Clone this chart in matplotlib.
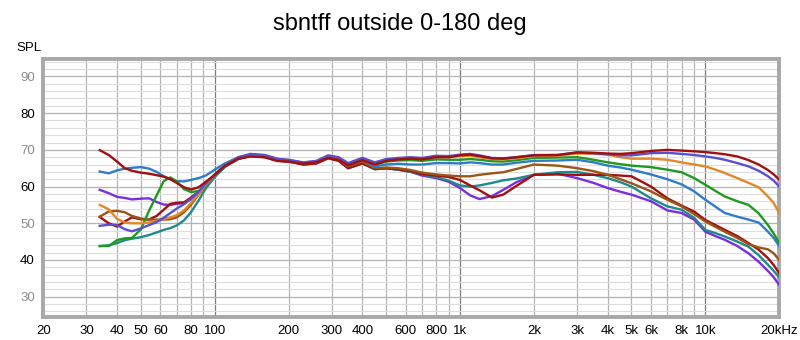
import matplotlib
matplotlib.use('Agg')
import matplotlib.pyplot as plt
from matplotlib.ticker import FixedLocator, NullFormatter

plt.rcParams['font.family'] = ['Liberation Sans', 'DejaVu Sans']

title = 'sbntff outside 0-180 deg'

freq = [34, 37, 40, 43, 46, 50, 54, 58, 62, 66, 70, 75, 80, 86, 92, 100, 110, 125, 140, 160,
        180, 200, 230, 260, 290, 320, 350, 400, 450, 500, 560, 630, 700, 800, 900, 1000, 1100,
        1200, 1350, 1500, 1700, 2000, 2500, 3000, 3500, 4000, 4500, 5000, 6000, 7000, 8000,
        9000, 10000, 11000, 12000, 13500, 15000, 16500, 18000, 19000, 20000]

spl_darkred = [69.9, 68.6, 66.8, 65.0, 64.3, 63.8, 63.5, 63.1, 62.7, 62.0, 61.0, 59.8, 59.2, 59.8, 61.3,
               63.2, 65.6, 67.6, 68.2, 68.0, 67.0, 66.8, 66.2, 66.6, 67.8, 67.3, 65.8, 67.2, 66.0, 67.0,
               67.4, 67.6, 67.4, 68.0, 68.0, 68.5, 68.7, 68.3, 67.7, 67.6, 68.0, 68.5, 68.6, 69.3, 69.2,
               69.0, 68.9, 69.1, 69.7, 70.0, 69.8, 69.6, 69.4, 69.1, 68.8, 68.2, 67.2, 66.0, 64.5, 63.3, 61.9]
spl_slate = [49.3, 49.6, 49.5, 48.4, 47.8, 48.6, 49.5, 50.3, 51.5, 52.8, 54.0, 55.2, 56.6, 58.6, 60.8,
             63.3, 65.8, 68.0, 68.9, 68.6, 67.6, 67.3, 66.6, 67.0, 68.5, 68.0, 66.4, 67.8, 66.6, 67.5,
             67.8, 68.0, 67.8, 68.4, 68.3, 68.7, 68.9, 68.5, 67.8, 67.7, 68.0, 68.6, 68.6, 69.3, 69.1,
             68.8, 68.5, 68.5, 69.1, 69.2, 68.9, 68.6, 68.2, 67.8, 67.3, 66.4, 65.5, 64.3, 62.8, 61.6, 60.0]
spl_orange = [55.0, 53.8, 51.2, 50.2, 50.0, 50.0, 50.2, 50.6, 51.2, 51.6, 52.2, 53.5, 55.5, 58.0, 60.5,
              63.2, 65.8, 68.0, 68.8, 68.5, 67.5, 67.2, 66.5, 66.9, 68.4, 67.9, 66.3, 67.7, 66.4, 67.2,
              67.5, 67.8, 67.6, 68.1, 68.0, 68.3, 68.4, 68.0, 67.5, 67.4, 67.7, 68.3, 68.4, 69.0, 68.9,
              68.7, 68.0, 67.6, 67.6, 67.3, 66.6, 66.0, 65.5, 64.6, 63.7, 62.3, 61.0, 59.8, 57.3, 55.5, 52.8]
spl_green = [43.8, 43.8, 45.4, 45.9, 46.0, 48.3, 53.4, 57.6, 61.5, 62.5, 61.4, 59.3, 58.5, 58.8, 60.2,
             63.0, 65.6, 67.8, 68.7, 68.4, 67.4, 67.1, 66.4, 66.8, 68.2, 67.7, 66.0, 67.5, 66.0, 66.8,
             67.1, 67.2, 67.0, 67.4, 67.3, 67.3, 67.5, 67.3, 66.9, 66.8, 67.2, 67.8, 67.9, 68.0, 67.3,
             66.6, 66.1, 65.7, 65.3, 64.6, 63.9, 62.3, 60.5, 58.8, 57.3, 56.0, 55.0, 52.7, 49.5, 47.2, 44.7]
spl_blue = [64.1, 63.6, 64.4, 64.9, 65.1, 65.3, 64.9, 64.0, 62.8, 62.0, 61.5, 61.4, 61.8, 62.3, 63.0,
            64.6, 66.3, 68.0, 68.6, 68.3, 67.3, 67.1, 66.4, 66.8, 68.1, 67.6, 65.8, 67.3, 65.5, 66.0,
            66.2, 66.0, 66.0, 66.4, 66.4, 66.3, 66.6, 66.4, 66.0, 66.0, 66.5, 67.0, 67.1, 67.3, 66.6,
            65.7, 65.2, 64.6, 63.3, 62.0, 60.6, 58.7, 56.4, 54.5, 52.8, 51.8, 51.0, 50.2, 47.7, 46.0, 43.8]
spl_brown = [51.8, 53.2, 53.4, 53.0, 52.0, 51.3, 51.0, 51.0, 51.0, 51.1, 51.6, 53.0, 55.0, 57.8, 60.3,
             63.0, 65.6, 67.8, 68.6, 68.3, 67.3, 67.0, 66.3, 66.6, 68.0, 67.4, 65.5, 66.8, 65.0, 65.2,
             65.0, 64.5, 63.8, 63.3, 63.0, 62.8, 62.8, 63.2, 63.6, 63.9, 64.8, 66.0, 65.7, 65.0, 64.2,
             63.2, 62.0, 60.9, 58.7, 56.4, 54.6, 52.5, 50.5, 49.0, 47.7, 46.0, 44.3, 43.4, 42.9, 41.8, 40.0]
spl_darkred2 = [51.7, 50.0, 49.1, 50.5, 51.6, 51.1, 51.0, 52.0, 53.7, 55.3, 55.6, 55.7, 57.0, 58.6, 60.8,
                63.2, 65.6, 67.6, 68.3, 68.0, 67.0, 66.8, 66.0, 66.3, 67.7, 67.0, 65.0, 66.3, 64.8, 65.0,
                64.7, 64.2, 63.4, 63.0, 62.6, 61.8, 60.3, 59.0, 57.0, 57.8, 60.2, 63.2, 63.3, 63.2, 63.2,
                63.2, 63.0, 62.8, 60.0, 56.8, 54.8, 53.2, 50.9, 49.5, 48.2, 46.5, 44.6, 42.8, 40.5, 38.6, 36.4]
spl_teal = [43.8, 44.0, 44.6, 45.4, 45.8, 46.2, 46.8, 47.5, 48.2, 48.7, 49.4, 50.8, 53.0, 56.2, 59.5,
            62.6, 65.3, 67.5, 68.4, 68.2, 67.1, 66.9, 66.0, 66.4, 67.8, 67.1, 65.0, 66.3, 64.7, 65.0,
            64.6, 64.0, 63.3, 62.6, 61.6, 60.3, 60.0, 60.3, 61.0, 61.7, 62.2, 63.2, 63.9, 64.0, 63.2,
            62.3, 61.2, 60.0, 56.8, 54.6, 53.7, 51.5, 48.2, 47.3, 46.4, 45.0, 43.6, 41.3, 38.7, 37.0, 35.3]
spl_purple = [59.1, 58.2, 57.2, 56.9, 56.5, 56.7, 56.8, 55.8, 55.1, 55.0, 55.3, 55.5, 56.6, 58.4, 60.6,
              63.0, 65.5, 67.7, 68.6, 68.3, 67.2, 67.0, 66.1, 66.4, 67.9, 67.2, 65.2, 66.4, 64.8, 65.0,
              64.6, 64.0, 63.0, 62.3, 61.3, 59.6, 57.6, 56.6, 57.4, 59.1, 61.2, 63.2, 63.5, 62.3, 61.0,
              59.6, 58.6, 57.8, 56.0, 53.5, 52.8, 51.0, 47.7, 46.5, 45.5, 43.8, 41.8, 39.5, 37.0, 35.3, 33.2]

series = [
    (spl_purple, '#7a2ee0'),
    (spl_teal, '#1f8a8a'),
    (spl_darkred2, '#a01010'),
    (spl_brown, '#9a5518'),
    (spl_blue, '#2f7cc8'),
    (spl_green, '#1f9a1f'),
    (spl_orange, '#e0882a'),
    (spl_slate, '#5a4fcf'),
    (spl_darkred, '#a01010'),
]

x_ticks = [20, 30, 40, 50, 60, 80, 100, 200, 300, 400, 600, 800, 1000, 2000, 3000, 4000,
           5000, 6000, 8000, 10000, 20000]
x_labels = ['20', '30', '40', '50', '60', '80', '100', '200', '300', '400', '600', '800', '1k',
            '2k', '3k', '4k', '5k', '6k', '8k', '10k', '20kHz']
y_ticks = [30, 40, 50, 60, 70, 80, 90]

fig = plt.figure(figsize=(8, 3.4), dpi=100)
ax = fig.add_axes([0.054, 0.068, 0.92, 0.759])

# grid lines
minor_x = [m * d for d in (10, 100, 1000) for m in range(2, 10)] + [20000]
for f in minor_x:
    ax.axvline(f, color='#b4b4b4', lw=0.9, zorder=0)
for f in (100, 1000, 10000):
    ax.axvline(f, color='#7c7c7c', lw=0.9, zorder=0)
for v in range(24, 96, 2):
    ax.axhline(v, color='#dedede', lw=0.8, zorder=0)
for v in range(20, 100, 10):
    ax.axhline(v, color='#b4b4b4', lw=0.9, zorder=0)

for vals, col in series:
    ax.plot(freq, vals, color=col, lw=1.7, zorder=3)

ax.set_xscale('log')
ax.set_xlim(20, 20000)
ax.set_ylim(24.5, 94.8)

ax.xaxis.set_major_locator(FixedLocator(x_ticks))
ax.set_xticklabels(x_labels)
ax.xaxis.set_minor_formatter(NullFormatter())
ax.set_yticks(y_ticks)
ax.tick_params(axis='both', which='both', length=0, labelsize=9.5)
ax.tick_params(axis='x', pad=6)
ax.tick_params(axis='y', pad=6)
for lab, v in zip(ax.get_yticklabels(), y_ticks):
    lab.set_color('#000000' if v in (40, 60, 80) else '#8c8c8c')

for s in ax.spines.values():
    s.set_color('#a8a8a8')
    s.set_linewidth(2.8)

fig.text(0.5, 0.93, title, ha='center', va='center', fontsize=17)
fig.text(0.02, 0.86, 'SPL', ha='left', va='center', fontsize=9.5)

plt.savefig('out.png', dpi=100)
plt.close()
